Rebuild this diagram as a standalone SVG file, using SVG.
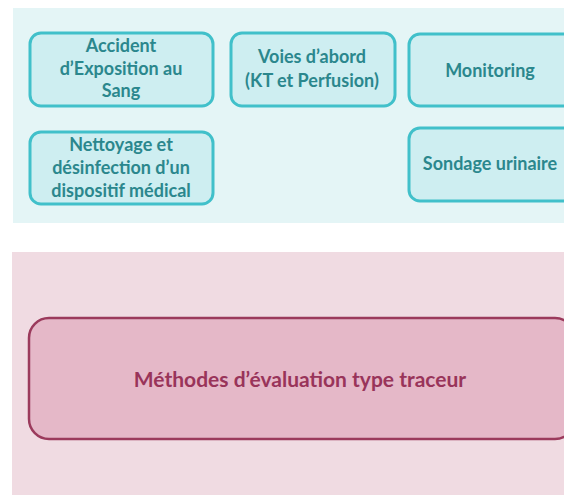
<svg xmlns="http://www.w3.org/2000/svg" width="564" height="495" viewBox="0 0 564 495">
<style>
.panel-top{fill:#e4f5f6}
.panel-bot{fill:#f0dbe2}
.tbox{fill:#ceeef1;stroke:#41c0ca;stroke-width:3}
.pbox{fill:#e5b8c8;stroke:#9b3a5c;stroke-width:2.5}
.tt{font-family:Lato,"Liberation Sans",sans-serif;font-weight:bold;font-size:18px;fill:#2b878d;text-anchor:middle}
.pt{font-family:Lato,"Liberation Sans",sans-serif;font-weight:bold;font-size:21px;fill:#99345a;text-anchor:middle}
</style>
<rect width="564" height="495" fill="#ffffff"/>
<rect class="panel-top" x="13" y="8" width="551" height="215"/>
<rect class="panel-bot" x="12" y="252" width="552" height="243"/>
<g id="connectors"></g>
<g id="accident">
<rect class="tbox" x="30" y="33" width="183" height="73" rx="11"/>
<text class="tt" x="121" y="52">Accident</text>
<text class="tt" x="121" y="75">d’Exposition au</text>
<text class="tt" x="121" y="97">Sang</text>
</g>
<g id="voies">
<rect class="tbox" x="231" y="33" width="164" height="73" rx="11"/>
<text class="tt" x="312" y="63">Voies d’abord</text>
<text class="tt" x="312" y="87">(KT et Perfusion)</text>
</g>
<g id="monitoring">
<rect class="tbox" x="409" y="34" width="170" height="72" rx="11"/>
<text class="tt" x="490" y="77">Monitoring</text>
</g>
<g id="nettoyage">
<rect class="tbox" x="30" y="132" width="183" height="72" rx="11"/>
<text class="tt" x="121" y="151">Nettoyage et</text>
<text class="tt" x="121" y="174">désinfection d’un</text>
<text class="tt" x="121" y="197">dispositif médical</text>
</g>
<g id="sondage">
<rect class="tbox" x="409" y="128" width="170" height="73" rx="11"/>
<text class="tt" x="490" y="170">Sondage urinaire</text>
</g>
<g id="methodes">
<rect class="pbox" x="29" y="318" width="546" height="121" rx="20"/>
<text class="pt" x="300" y="387">Méthodes d’évaluation type traceur</text>
</g>
</svg>
